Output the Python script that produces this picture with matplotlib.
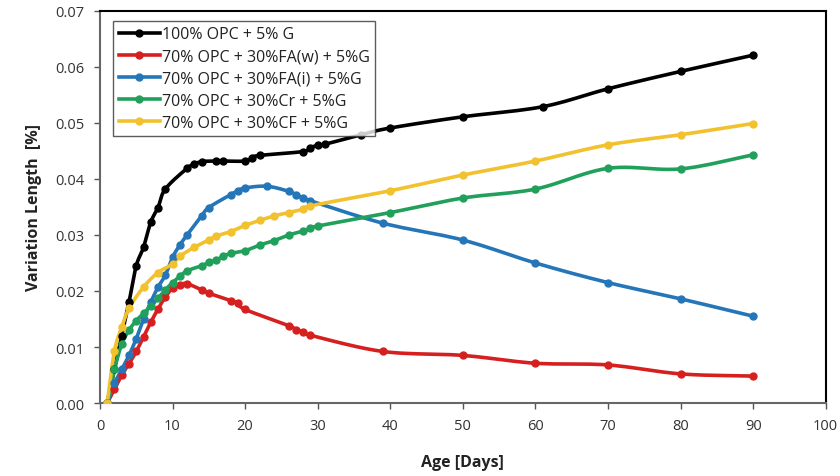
import numpy as np
import matplotlib
matplotlib.use("Agg")
import matplotlib.pyplot as plt

# --- data ---
days_opc = [1, 2, 3, 4, 5, 6, 7, 8, 9, 12, 13, 14, 16, 17, 20, 21, 22, 28, 29, 30, 31, 36, 40, 50, 61, 70, 80, 90]
vals_opc = [0.0, 0.006, 0.012, 0.018, 0.0245, 0.0278, 0.0323, 0.0349, 0.0382, 0.0419, 0.0426, 0.0431, 0.0432,
            0.0432, 0.0432, 0.0438, 0.0442, 0.0449, 0.0456, 0.0460, 0.0462, 0.0479, 0.0491, 0.0511, 0.0529,
            0.0561, 0.0592, 0.0621]

days_faw = [1, 2, 3, 4, 5, 6, 7, 8, 9, 10, 11, 12, 14, 15, 18, 19, 20, 26, 27, 28, 29, 39, 50, 60, 70, 80, 90]
vals_faw = [0.0, 0.0025, 0.005, 0.0070, 0.0092, 0.0118, 0.0144, 0.0168, 0.0189, 0.0205, 0.0211, 0.0213,
            0.0202, 0.0196, 0.0183, 0.0178, 0.0167, 0.0138, 0.0131, 0.0127, 0.0121, 0.0092, 0.0085, 0.0071,
            0.0068, 0.0052, 0.0048]

days_fai = [1, 2, 3, 4, 5, 6, 7, 8, 9, 10, 11, 12, 14, 15, 18, 19, 20, 23, 26, 27, 28, 29, 39, 50, 60, 70, 80, 90]
vals_fai = [0.0, 0.0035, 0.006, 0.0085, 0.0115, 0.0150, 0.0180, 0.0207, 0.0228, 0.0260, 0.0282, 0.0300,
            0.0334, 0.0349, 0.0372, 0.0379, 0.0384, 0.0387, 0.0378, 0.0372, 0.0366, 0.0361, 0.0321, 0.0291,
            0.0250, 0.0215, 0.0186, 0.0155]

days_cr = [1, 2, 3, 4, 5, 6, 7, 8, 9, 10, 11, 12, 14, 15, 16, 17, 18, 20, 22, 24, 26, 28, 29, 30, 40, 50, 60, 70, 80, 90]
vals_cr = [0.0, 0.0060, 0.0105, 0.0130, 0.0147, 0.0160, 0.0173, 0.0187, 0.0202, 0.0215, 0.0226, 0.0236,
           0.0245, 0.0251, 0.0255, 0.0262, 0.0267, 0.0272, 0.0282, 0.0290, 0.0300, 0.0307, 0.0312, 0.0316,
           0.0340, 0.0366, 0.0382, 0.0419, 0.0418, 0.0443]

days_cf = [1, 2, 3, 4, 6, 8, 10, 11, 13, 15, 16, 18, 20, 22, 24, 26, 28, 29, 40, 50, 60, 70, 80, 90]
vals_cf = [0.0, 0.0093, 0.0135, 0.0169, 0.0207, 0.0233, 0.0248, 0.0262, 0.0278, 0.0291, 0.0298, 0.0306,
           0.0317, 0.0326, 0.0334, 0.0340, 0.0346, 0.0352, 0.0379, 0.0407, 0.0432, 0.0461, 0.0479, 0.0499]

labels = ["100% OPC + 5% G", "70% OPC + 30%FA(w) + 5%G", "70% OPC + 30%FA(i) + 5%G",
          "70% OPC + 30%Cr + 5%G", "70% OPC + 30%CF + 5%G"]
colors = ["#000000", "#d62020", "#2576b8", "#20a05a", "#f2c12e"]
series = [(days_opc, vals_opc), (days_faw, vals_faw), (days_fai, vals_fai),
          (days_cr, vals_cr), (days_cf, vals_cf)]


def smooth(x, y, n=12):
    """Catmull-Rom style smoothing, similar to Excel's smoothed lines."""
    x = np.asarray(x, float)
    y = np.asarray(y, float)
    px = np.concatenate([[2 * x[0] - x[1]], x, [2 * x[-1] - x[-2]]])
    py = np.concatenate([[2 * y[0] - y[1]], y, [2 * y[-1] - y[-2]]])
    xs, ys = [], []
    t = np.linspace(0, 1, n, endpoint=False)
    for i in range(1, len(px) - 2):
        p0, p1, p2, p3 = (np.array([px[j], py[j]]) for j in range(i - 1, i + 3))
        for tt in t:
            pt = 0.5 * ((2 * p1) + (-p0 + p2) * tt + (2 * p0 - 5 * p1 + 4 * p2 - p3) * tt ** 2
                        + (-p0 + 3 * p1 - 3 * p2 + p3) * tt ** 3)
            xs.append(pt[0])
            ys.append(pt[1])
    xs.append(x[-1])
    ys.append(y[-1])
    return np.array(xs), np.array(ys)


plt.rcParams['font.family'] = ['Open Sans', 'DejaVu Sans']

fig = plt.figure(figsize=(8.4, 4.77), dpi=100)
ax = fig.add_axes([0.119, 0.153, 0.864, 0.822])

handles = []
for (d, v), c, lab in zip(series, colors, labels):
    sx, sy = smooth(d, v)
    ax.plot(sx, sy, color=c, linewidth=2.6, zorder=3, solid_capstyle='round')
    ax.plot(d, v, linestyle='none', marker='o', markersize=5, color=c, zorder=4)
    h, = ax.plot([], [], color=c, linewidth=2.6, marker='o', markersize=5, label=lab)
    handles.append(h)

ax.set_xlim(0, 100)
ax.set_ylim(0, 0.07)
ax.set_xticks(np.arange(0, 101, 10))
ax.set_yticks(np.arange(0, 0.0701, 0.01))
ax.set_yticklabels([f"{t:.2f}" for t in np.arange(0, 0.0701, 0.01)])
ax.tick_params(direction='out', length=4, width=1, colors='#555555', labelcolor='#333333',
               labelsize=10.5, pad=7)

for side in ['top', 'right']:
    ax.spines[side].set_color('black')
    ax.spines[side].set_linewidth(1.5)
for side in ['left', 'bottom']:
    ax.spines[side].set_color('#666666')
    ax.spines[side].set_linewidth(1.5)

ax.set_xlabel("Age [Days]", fontsize=11.5, fontweight='bold', labelpad=15, color='#222222')
ax.set_ylabel("Variation Length  [%]", fontsize=11.5, fontweight='bold', labelpad=10, color='#222222')

leg = ax.legend(handles=handles, loc='upper left', bbox_to_anchor=(0.018, 0.975), borderaxespad=0,
                fontsize=11.5, frameon=True, fancybox=False, handlelength=2.6, handletextpad=0.1,
                labelspacing=0.38, borderpad=0.35)
leg.get_frame().set_edgecolor('#333333')
leg.get_frame().set_linewidth(1.0)
for txt in leg.get_texts():
    txt.set_color('#222222')

fig.savefig("out.png", dpi=100)
